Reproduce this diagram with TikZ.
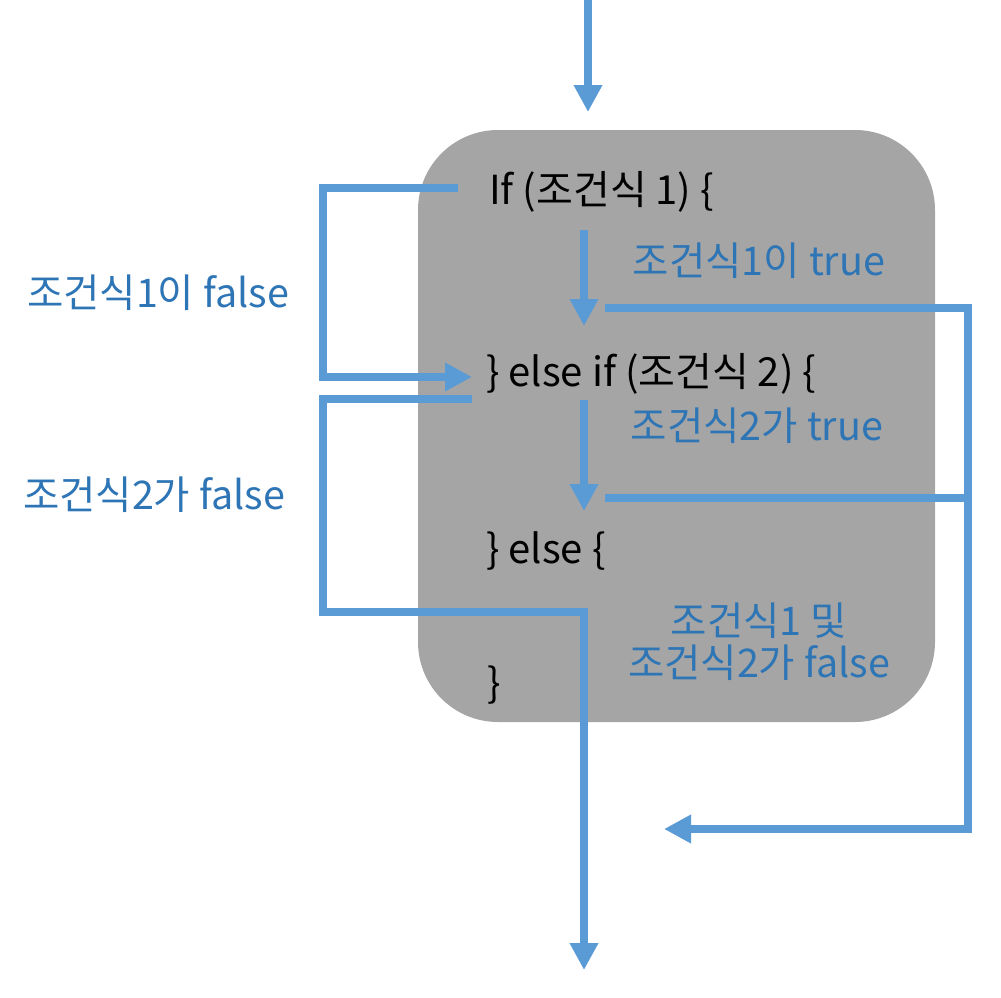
\documentclass[tikz,border=0pt]{standalone}
\usepackage{fontspec}
\setmainfont{Noto Sans CJK KR}
\usetikzlibrary{arrows.meta}
\definecolor{lineblue}{HTML}{5B9BD5}
\definecolor{textblue}{HTML}{2E75B6}
\definecolor{boxgray}{HTML}{A5A5A5}
\begin{document}
\begin{tikzpicture}[x=1pt,y=-1pt,
  flow/.style={draw=lineblue,line width=8.5pt,-{Triangle[width=27pt,length=27pt]}},
  plain/.style={draw=lineblue,line width=8.5pt},
  code/.style={font=\fontsize{40}{44}\selectfont,anchor=base west,inner sep=0pt},
  lbl/.style={font=\fontsize{39.5}{42}\selectfont,text=textblue,anchor=base,inner sep=0pt,align=center}]
\useasboundingbox (0,0) rectangle (1001,998);
\fill[boxgray,rounded corners=80pt] (418,130) rectangle (935,722);
% code lines
\node[code] (if) at (489,204) {If (조건식 1) \{};
\node[code] (elif) at (486,386) {\} else if (조건식 2) \{};
\node[code] (els) at (486,563) {\} else \{};
\node[code] (end) at (487,697) {\}};
% labels
\node[lbl] (t1) at (759,275) {조건식1이 true};
\node[lbl] (t2) at (757,440) {조건식2가 true};
\node[lbl,anchor=north] (ff) at (759,603) {조건식1 및\\조건식2가 false};
\node[lbl] (f1) at (158,307) {조건식1이 false};
\node[lbl] (f2) at (154,509) {조건식2가 false};
% coordinates
\coordinate (start) at (588,0);
\coordinate (entry) at (588,112);
\coordinate (f1s) at (458,188);
\coordinate (f1a) at (323,188);
\coordinate (f1b) at (323,377);
\coordinate (f1e) at (472,377);
\coordinate (a1s) at (584,230);
\coordinate (a1e) at (584,326);
\coordinate (a2s) at (584,400);
\coordinate (a2e) at (584,511);
\coordinate (f2s) at (472,399);
\coordinate (f2a) at (323,399);
\coordinate (f2b) at (323,612);
\coordinate (f2c) at (584,612);
\coordinate (exit) at (584,970);
\coordinate (r1s) at (605,308);
\coordinate (r2s) at (605,498);
\coordinate (rc) at (968,308);
\coordinate (rj) at (968,498);
\coordinate (rb) at (968,829);
\coordinate (re) at (664,829);
% connectors
\draw[flow] (start) -- (entry);
\draw[flow] (f1s) -- (f1a) -- (f1b) -- (f1e);
\draw[flow] (a1s) -- (a1e);
\draw[flow] (a2s) -- (a2e);
\draw[flow] (f2s) -- (f2a) -- (f2b) -- (f2c) -- (exit);
\draw[plain] (r2s) -- (rj);
\draw[flow] (r1s) -- (rc) -- (rb) -- (re);
\end{tikzpicture}
\end{document}
